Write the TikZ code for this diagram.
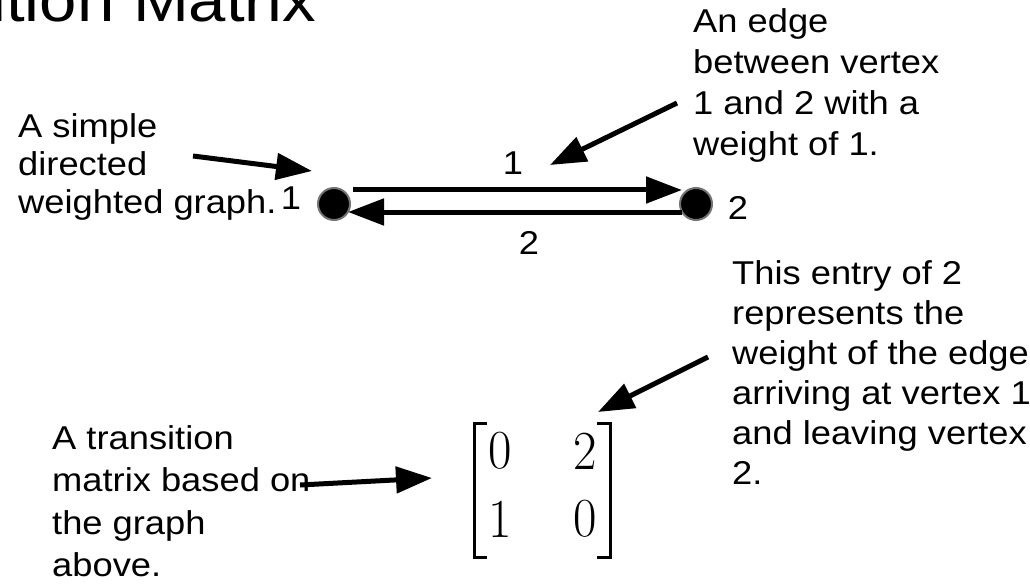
\documentclass[tikz,border=0pt]{standalone}
\usepackage{fontspec}
\setmainfont{Liberation Sans}[FakeStretch=1.1]
\newfontfamily\lmdigits{Latin Modern Roman}
\usetikzlibrary{arrows.meta}
\newcommand\notelines[1]{\begin{tabular}[t]{@{}l@{}}#1\end{tabular}}
\begin{document}
\begin{tikzpicture}[x=1pt,y=-1pt,
  note/.style={inner sep=0pt, anchor=base west},
  vtx/.style={circle, fill=black, draw=black!55, line width=2pt, minimum size=32pt, inner sep=0pt},
  edgearrow/.style={line width=5pt, -{Triangle[length=36pt,width=26pt]}},
  pointer/.style={line width=5pt, -{Triangle[length=36pt,width=26pt]}},
  num/.style={inner sep=0pt, font=\fontsize{33}{38}\selectfont},
  digit/.style={inner sep=0pt, font=\fontsize{51}{56}\lmdigits},
  bracket/.style={line width=3pt}
]
\useasboundingbox (0,0) rectangle (1030,588);
% title
\node[anchor=base east, inner sep=0pt, font=\fontsize{61}{70}\selectfont] (title) at (316,22) {Transition Matrix};
% vertices
\node[vtx] (v1) at (334,204) {};
\node[vtx] (v2) at (696,204) {};
% edges
\draw[edgearrow] ([xshift=2pt,yshift=14pt]v1.east) -- ([xshift=3pt,yshift=14pt]v2.west);
\draw[edgearrow] ([xshift=3pt,yshift=-8pt]v2.west) -- ([xshift=-3pt,yshift=-8pt]v1.east);
\node[num] (w12) at (513,163) {1};
\node[num] (w21) at (529,243) {2};
\node[num] (lab1) at (291,198) {1};
\node[num] (lab2) at (738,208) {2};
% notes
\node[note, font=\fontsize{33}{38}\selectfont] (nsimple) at (18,138) {\notelines{A simple\\directed\\weighted graph.}};
\node[note, font=\fontsize{33}{41}\selectfont] (nedge) at (693,33) {\notelines{An edge\\between vertex\\1 and 2 with a\\weight of 1.}};
\node[note, font=\fontsize{33}{40}\selectfont] (nentry) at (732,284) {\notelines{This entry of 2\\represents the\\weight of the edge\\arriving at vertex 1\\and leaving vertex\\2.}};
\node[note, font=\fontsize{33}{42.5}\selectfont] (ntrans) at (52,449) {\notelines{A transition\\matrix based on\\the graph\\above.}};
% matrix
\node[digit] (m11) at (500,451) {\scalebox{1}[1.08]{0}};
\node[digit] (m12) at (585,451) {\scalebox{1}[1.08]{2}};
\node[digit] (m21) at (500,519) {\scalebox{1}[1.08]{1}};
\node[digit] (m22) at (585,519) {\scalebox{1}[1.08]{0}};
\coordinate (bl) at (474,423);
\coordinate (br) at (610,423);
\draw[bracket] ([xshift=13pt]bl) -- (bl) -- ++(0,134) -- ++(13,0);
\draw[bracket] ([xshift=-13pt]br) -- (br) -- ++(0,134) -- ++(-13,0);
% pointers
\coordinate (p1s) at (193,156); \coordinate (p1e) at (312,171);
\coordinate (p2s) at (677,103); \coordinate (p2e) at (550,165);
\coordinate (p3s) at (300,485); \coordinate (p3e) at (432,478);
\coordinate (p4s) at (708,357); \coordinate (p4e) at (598,412);
\draw[pointer] (p1s) -- (p1e);
\draw[pointer] (p2s) -- (p2e);
\draw[pointer] (p3s) -- (p3e);
\draw[pointer] (p4s) -- (p4e);
\end{tikzpicture}
\end{document}
